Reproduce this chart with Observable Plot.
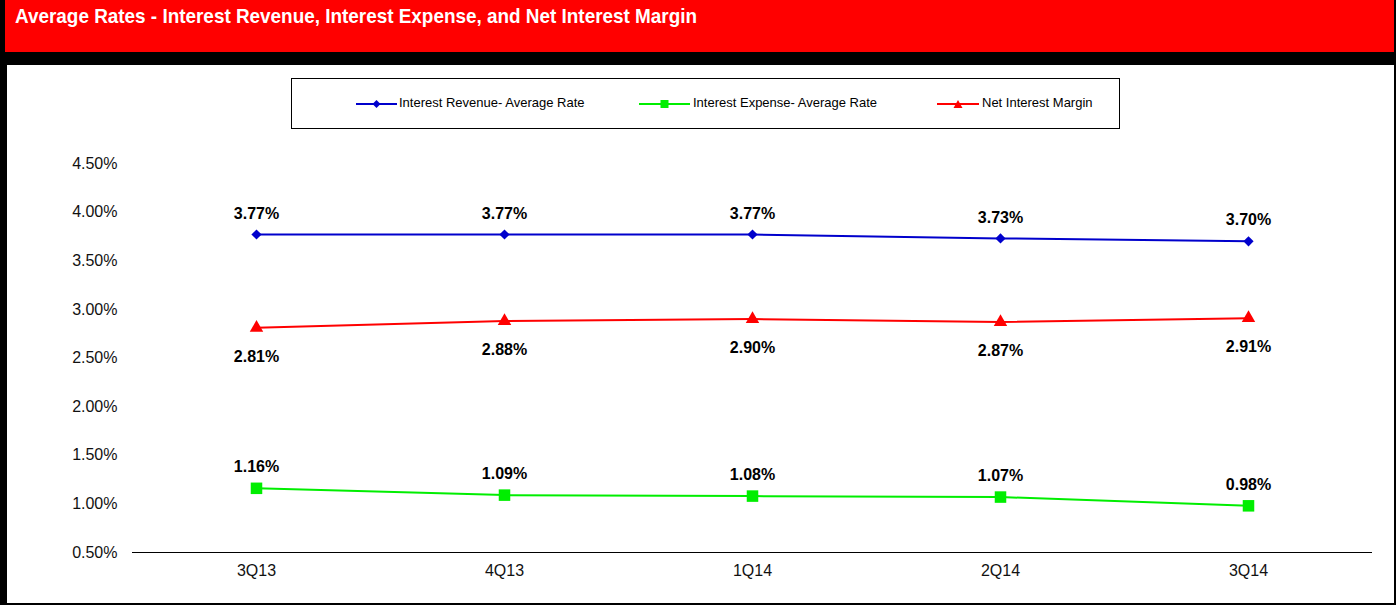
<!DOCTYPE html>
<html><head><meta charset="utf-8">
<script src="https://cdn.jsdelivr.net/npm/d3@7"></script>
<script src="https://cdn.jsdelivr.net/npm/@observablehq/plot@0.6"></script>
<style>
html,body{margin:0;padding:0;}
body{background:#000;width:1396px;height:605px;overflow:hidden;position:relative;font-family:"Liberation Sans",Arial,sans-serif;}
#header{position:absolute;left:5px;top:0;width:1389px;height:52px;background:#ff0000;}
#title{position:absolute;left:10px;top:4px;color:#fff;font-weight:bold;font-size:21px;font-family:"Liberation Sans Narrow","Liberation Sans",Arial,sans-serif;white-space:nowrap;transform:scaleX(0.9);transform-origin:0 0;}
#panel{position:absolute;left:7px;top:65px;width:1387px;height:538px;background:#fff;}
#legend{position:absolute;left:284px;top:13px;width:827px;height:49px;border:1px solid #000;box-sizing:content-box;}
.item{position:absolute;top:0;height:49px;}
.item svg{position:absolute;top:19px;}
.item span{position:absolute;top:16px;font-size:13px;white-space:nowrap;color:#000;}
#chart{position:absolute;left:0;top:0;}
</style>
</head><body>
<div id="header"><div id="title">Average Rates - Interest Revenue, Interest Expense, and Net Interest Margin</div></div>
<div id="panel"><div id="chart"></div><div id="legend"></div></div>
<script>
const quarters = ["3Q13", "4Q13", "1Q14", "2Q14", "3Q14"];
const revenueRate = [3.77, 3.77, 3.77, 3.73, 3.70];
const expenseRate = [1.16, 1.09, 1.08, 1.07, 0.98];
const netMargin = [2.81, 2.88, 2.90, 2.87, 2.91];
const seriesNames = ["Interest Revenue- Average Rate", "Interest Expense- Average Rate", "Net Interest Margin"];
const seriesColors = ["#0000cc", "#00ee00", "#ff0000"];
const yTicks = [0.5, 1.0, 1.5, 2.0, 2.5, 3.0, 3.5, 4.0, 4.5];

const mk = (vals) => quarters.map((q, i) => ({q, v: vals[i]}));
const rev = mk(revenueRate), exp = mk(expenseRate), nim = mk(netMargin);
const pct = d => d.toFixed(2) + "%";

const chart = Plot.plot({
  width: 1387, height: 538,
  marginLeft: 125, marginRight: 22, marginTop: 98, marginBottom: 51,
  x: {type: "point", domain: quarters, padding: 0.5, label: null},
  y: {domain: [0.5, 4.5], label: null},
  style: {fontFamily: "'Liberation Sans', Arial, sans-serif", fontSize: "16px", color: "#000", background: "transparent", overflow: "visible"},
  marks: [
    Plot.axisY({ticks: yTicks, tickSize: 0, tickPadding: 15, tickFormat: pct, label: null, fontSize: 16, fill: "#111"}),
    Plot.axisX({tickSize: 0, tickPadding: 12, label: null, fontSize: 16, fill: "#111"}),
    Plot.ruleY([0.5], {stroke: "#000", strokeWidth: 1}),
    Plot.line(rev, {x: "q", y: "v", stroke: seriesColors[0], strokeWidth: 2}),
    Plot.line(exp, {x: "q", y: "v", stroke: seriesColors[1], strokeWidth: 2}),
    Plot.line(nim, {x: "q", y: "v", stroke: seriesColors[2], strokeWidth: 2}),
    Plot.dot(rev, {x: "q", y: "v", symbol: "diamond2", r: 4.6, fill: seriesColors[0], stroke: "none"}),
    Plot.dot(exp, {x: "q", y: "v", symbol: "square", r: 6.5, fill: seriesColors[1], stroke: "none"}),
    Plot.dot(nim, {x: "q", y: "v", symbol: "triangle", r: 5, fill: seriesColors[2], stroke: "none"}),
    Plot.text(rev, {x: "q", y: "v", text: d => pct(d.v), dy: -21, fontWeight: "bold", fontSize: 16, fill: "#000"}),
    Plot.text(exp, {x: "q", y: "v", text: d => pct(d.v), dy: -21, fontWeight: "bold", fontSize: 16, fill: "#000"}),
    Plot.text(nim, {x: "q", y: "v", text: d => pct(d.v), dy: 29, fontWeight: "bold", fontSize: 16, fill: "#000"})
  ]
});
document.getElementById("chart").appendChild(chart);

// Legend
const legend = document.getElementById("legend");
const items = [
  {lineX: 64, lineW: 41, textX: 107, shape: "diamond"},
  {lineX: 347, lineW: 51, textX: 401, shape: "square"},
  {lineX: 645, lineW: 42, textX: 690, shape: "triangle"}
];
items.forEach((it, i) => {
  const div = document.createElement("div");
  div.className = "item";
  div.style.left = it.lineX + "px";
  const w = it.lineW, c = seriesColors[i], m = w / 2;
  let sym = "";
  if (it.shape === "diamond") sym = `<path d="M${m},2 L${m+4},6 L${m},10 L${m-4},6 Z" fill="${c}"/>`;
  else if (it.shape === "square") sym = `<rect x="${m-4}" y="2" width="8" height="8" fill="${c}"/>`;
  else sym = `<path d="M${m},2 L${m+4.5},10 L${m-4.5},10 Z" fill="${c}"/>`;
  div.innerHTML = `<svg width="${w}" height="12"><line x1="0" x2="${w}" y1="6" y2="6" stroke="${c}" stroke-width="2"/>${sym}</svg><span style="left:${it.textX - it.lineX}px">${seriesNames[i]}</span>`;
  legend.appendChild(div);
});
</script>
</body></html>
